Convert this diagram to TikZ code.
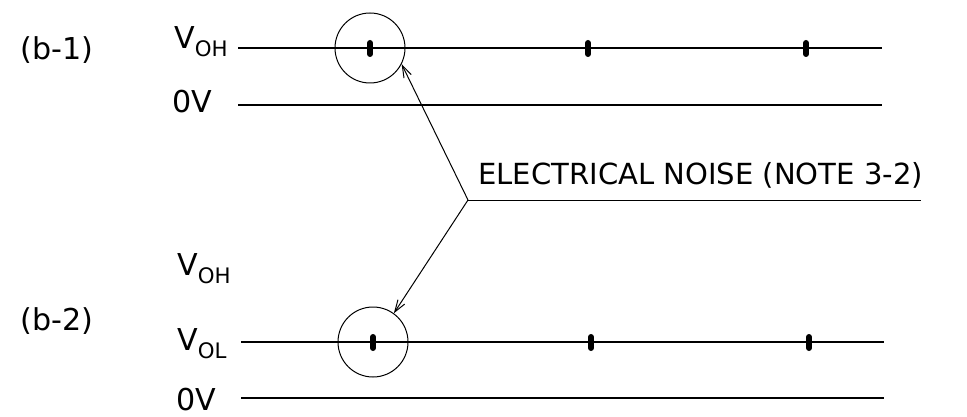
\documentclass[tikz,border=0pt]{standalone}
\usepackage{fontspec}
\setmainfont{DejaVu Sans}
\usetikzlibrary{arrows.meta}
\newcommand{\sbs}[1]{\raisebox{-6pt}{\fontsize{16}{17}\selectfont #1}}

\begin{document}
\begin{tikzpicture}[
        x=0.75pt, y=-0.75pt,
        every node/.style={font=\fontsize{22.6}{27}\selectfont, inner sep=0pt},
        nivel/.style={line width=1.9pt},
        pico/.style={line width=4.5pt, line cap=round},
        lupa/.style={circle, draw, line width=0.75pt, minimum size=52.5pt},
        seta/.style={line width=0.75pt, -{Straight Barb[length=9pt, width=6pt]}}
    ]
        \useasboundingbox (0,0) rectangle (967,417);

        %--------------------------------
        % (b-1)
        %--------------------------------
        \node (b1) at (57,50) {(b-1)};
        \node[anchor=base west] (voh1) at (174,49) {V\sbs{OH}};
        \node[anchor=base west] (zv1) at (172,113) {0V};

        \coordinate (h1i) at (238,48);
        \coordinate (h1f) at (882,48);
        \coordinate (z1i) at (238,105);
        \coordinate (z1f) at (882,105);
        \draw[nivel] (h1i) -- (h1f);
        \draw[nivel] (z1i) -- (z1f);

        \foreach \x in {370,588,806}
            \draw[pico] (\x,43) -- (\x,54);

        \node[lupa] (lupa1) at (370,48) {};

        %--------------------------------
        % (b-2)
        %--------------------------------
        \node (b2) at (57,321) {(b-2)};
        \node[anchor=base west] (voh2) at (177,275) {V\sbs{OH}};
        \node[anchor=base west] (vol2) at (177,350) {V\sbs{OL}};
        \node[anchor=base west] (zv2) at (176,410) {0V};

        \coordinate (l2i) at (241,342);
        \coordinate (l2f) at (884,342);
        \coordinate (z2i) at (241,398);
        \coordinate (z2f) at (884,398);
        \draw[nivel] (l2i) -- (l2f);
        \draw[nivel] (z2i) -- (z2f);

        \foreach \x in {373,591,809}
            \draw[pico] (\x,337) -- (\x,348);

        \node[lupa] (lupa2) at (373,342) {};

        %--------------------------------
        % nota
        %--------------------------------
        \coordinate (junta) at (468,200);
        \coordinate (fimnota) at (921,200);
        \node[anchor=base west, font=\fontsize{21.8}{26}\selectfont] (nota) at (478,185) {ELECTRICAL NOISE (NOTE 3-2)};
        \draw[line width=0.75pt] (junta) -- (fimnota);
        \draw[seta] (junta) -- (lupa1.-27);
        \draw[seta] (junta) -- (lupa2.54);

    \end{tikzpicture}
\end{document}
